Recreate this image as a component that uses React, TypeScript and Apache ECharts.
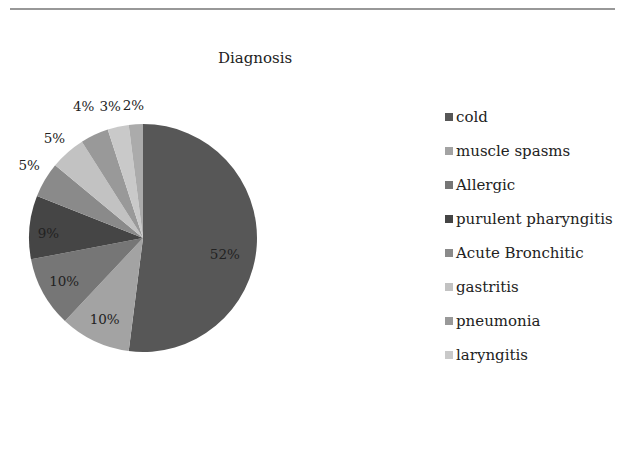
import React, { useEffect, useRef } from "react";
import * as echarts from "echarts";

const categories = [
  "cold",
  "muscle spasms",
  "Allergic",
  "purulent pharyngitis",
  "Acute Bronchitic",
  "gastritis",
  "pneumonia",
  "laryngitis",
  "other",
];
const values = [52, 10, 10, 9, 5, 5, 4, 3, 2];
const colors = [
  "#575757",
  "#a3a3a3",
  "#767676",
  "#454545",
  "#8a8a8a",
  "#c2c2c2",
  "#999999",
  "#c9c9c9",
  "#ababab",
];
const legendNames = categories.slice(0, 8);
const insideThreshold = 8;

const FONT = "DejaVu Serif";

// small nudges for a few value labels (style only)
const labelOffsets: Record<number, [number, number]> = {
  0: [-8, 10],
  3: [-5, 3],
  4: [4, -3],
  5: [2, 3],
  6: [-1, -8],
  7: [-3, 2],
  8: [-1, 4],
};

export default function App() {
  const ref = useRef<HTMLDivElement>(null);
  useEffect(() => {
    if (!ref.current) return;
    const chart = echarts.init(ref.current, undefined, { renderer: "svg" });
    const mainData = categories.map((name, i) => ({
      name,
      value: values[i],
      itemStyle: { color: colors[i] },
    }));
    const innerLabelData = categories.map((name, i) => ({
      name,
      value: values[i],
      label: { show: values[i] >= insideThreshold, offset: labelOffsets[i] || [0, 0] },
    }));
    const outerLabelData = categories.map((name, i) => ({
      name,
      value: values[i],
      label: { show: values[i] < insideThreshold, offset: labelOffsets[i] || [0, 0] },
    }));
    const labelStyle = {
      position: "inside",
      formatter: "{c}%",
      fontFamily: FONT,
      fontSize: 13.5,
      color: "#222",
    };
    const ghost = {
      type: "pie",
      center: [143, 238],
      startAngle: 90,
      clockwise: true,
      silent: true,
      avoidLabelOverlap: false,
      labelLayout: { hideOverlap: false },
      itemStyle: { color: "rgba(0,0,0,0)", borderWidth: 0 },
      label: labelStyle,
      labelLine: { show: false },
      emphasis: { disabled: true },
    };
    chart.setOption({
      animation: false,
      legend: {
        data: legendNames,
        orient: "vertical",
        left: 440,
        top: 104,
        itemWidth: 8,
        itemHeight: 8,
        itemGap: 18,
        icon: "rect",
        selectedMode: false,
        textStyle: { fontFamily: FONT, fontSize: 15, color: "#222", lineHeight: 16, padding: [0, 0, 0, -2] },
      },
      graphic: [
        {
          type: "line",
          shape: { x1: 10, y1: 9, x2: 615, y2: 9 },
          style: { stroke: "#333", lineWidth: 1.2 },
        },
        {
          type: "text",
          x: 255,
          y: 58,
          style: {
            text: "Diagnosis",
            x: 0,
            y: 0,
            textAlign: "center",
            textVerticalAlign: "middle",
            fontFamily: FONT,
            fontSize: 15,
            fill: "#222",
          },
        },
      ],
      series: [
        {
          type: "pie",
          center: [143, 238],
          radius: [0, 114],
          startAngle: 90,
          clockwise: true,
          silent: true,
          itemStyle: { borderWidth: 0 },
          label: { show: false },
          labelLine: { show: false },
          emphasis: { disabled: true },
          data: mainData,
        },
        { ...ghost, radius: [60, 114], data: innerLabelData },
        { ...ghost, radius: [114, 154], data: outerLabelData },
      ],
    });
    return () => chart.dispose();
  }, []);
  return (
    <div
      ref={ref}
      style={{ position: "absolute", left: 0, top: 0, width: 630, height: 451, background: "#fff" }}
    />
  );
}
